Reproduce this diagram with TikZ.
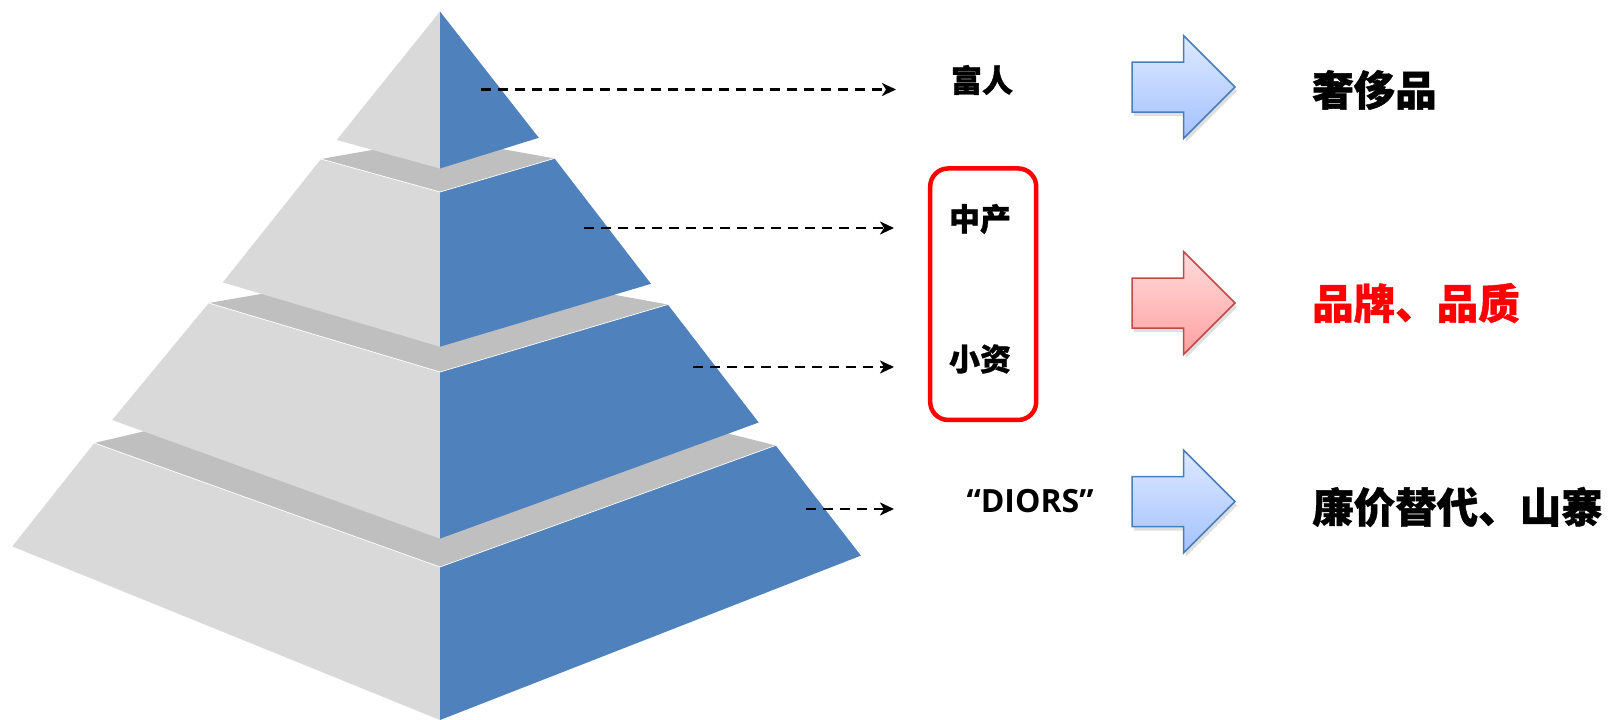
\documentclass[tikz,border=0pt]{standalone}
\usepackage{fontspec}
\newfontfamily\cjk{Noto Sans CJK SC}[BoldFeatures={FakeBold=1.0}]
\newfontfamily\latn{Open Sans}
\usetikzlibrary{arrows.meta,shadows}
\definecolor{lface}{HTML}{D9D9D9}
\definecolor{rface}{HTML}{4F81BD}
\definecolor{tface}{HTML}{BFBFBF}
\definecolor{bline}{HTML}{4A7EBB}
\definecolor{rline}{HTML}{BE4B48}
\definecolor{btop}{RGB}{222,233,255}
\definecolor{bbot}{RGB}{163,194,255}
\definecolor{rtop}{RGB}{255,220,220}
\definecolor{rbot}{RGB}{255,160,160}
\tikzset{
  leftface/.style={fill=lface},
  rightface/.style={fill=rface},
  topface/.style={fill=tface},
  edgeline/.style={draw=white, line width=0.7pt},
  dasharrow/.style={draw=black, line width=2.6pt, dash pattern=on 10pt off 7pt, -{Stealth[length=14pt,width=13pt,inset=4pt]}},
  grouplabel/.style={font=\cjk\bfseries\fontsize{31}{36}\selectfont, inner sep=0pt},
  resultlabel/.style={font=\cjk\bfseries\fontsize{41.5}{48}\selectfont, inner sep=0pt, anchor=west},
  bluearrow/.style={draw=bline, line width=1.5pt, top color=btop, bottom color=bbot, line join=miter,
     drop shadow={opacity=0.25, shadow xshift=2pt, shadow yshift=-4pt}},
  redarrow/.style={draw=rline, line width=1.5pt, top color=rtop, bottom color=rbot, line join=miter,
     drop shadow={opacity=0.25, shadow xshift=2pt, shadow yshift=-4pt}},
  redbox/.style={draw=red, line width=4.5pt, rounded corners=18pt}
}
\begin{document}
\begin{tikzpicture}[x=1pt,y=-1pt]
\useasboundingbox (0,0) rectangle (1612,720);
% ---------- tier 4 (bottom) ----------
\coordinate (d-tl) at (94.3,443);   \coordinate (d-tr) at (775.6,445.4);
\coordinate (d-tf) at (440,567);    \coordinate (d-bk) at (440,362);
\coordinate (d-bl) at (12.3,546.4); \coordinate (d-br) at (860.9,555.6);
\coordinate (d-bc) at (440,720);
\fill[topface] (d-tl) -- (d-bk) -- (d-tr) -- (d-tf) -- cycle;
\fill[leftface] (d-tl) -- (d-tf) -- (d-bc) -- (d-bl) -- cycle;
\fill[rightface] (d-tf) -- (d-tr) -- (d-br) -- (d-bc) -- cycle;
\draw[edgeline] (d-tl) -- (d-tf) -- (d-tr);
% ---------- tier 3 ----------
\coordinate (c-tl) at (208.8,303);  \coordinate (c-tr) at (667.8,304.5);
\coordinate (c-tf) at (440,372);    \coordinate (c-bk) at (440,263);
\coordinate (c-bl) at (112.2,420);  \coordinate (c-br) at (758.7,422.5);
\coordinate (c-bc) at (440,538.6);
\fill[topface] (c-tl) -- (c-bk) -- (c-tr) -- (c-tf) -- cycle;
\fill[leftface] (c-tl) -- (c-tf) -- (c-bc) -- (c-bl) -- cycle;
\fill[rightface] (c-tf) -- (c-tr) -- (c-br) -- (c-bc) -- cycle;
\draw[edgeline] (c-tl) -- (c-tf) -- (c-tr);
% ---------- tier 2 ----------
\coordinate (b-tl) at (321,159);    \coordinate (b-tr) at (554.5,158.4);
\coordinate (b-tf) at (440,192);    \coordinate (b-bk) at (440,138);
\coordinate (b-bl) at (222.8,282.4);\coordinate (b-br) at (651,283.8);
\coordinate (b-bc) at (440,346.7);
\fill[topface] (b-tl) -- (b-bk) -- (b-tr) -- (b-tf) -- cycle;
\fill[leftface] (b-tl) -- (b-tf) -- (b-bc) -- (b-bl) -- cycle;
\fill[rightface] (b-tf) -- (b-tr) -- (b-br) -- (b-bc) -- cycle;
\draw[edgeline] (b-tl) -- (b-tf) -- (b-tr);
% ---------- tier 1 (top) ----------
\coordinate (a-ap) at (440,11.5);
\coordinate (a-bl) at (336.7,140);  \coordinate (a-br) at (538.8,137.8);
\coordinate (a-bc) at (440,168.5);
\fill[leftface] (a-ap) -- (a-bc) -- (a-bl) -- cycle;
\fill[rightface] (a-ap) -- (a-br) -- (a-bc) -- cycle;
% ---------- dashed arrows ----------
\coordinate (s1) at (481,89.5);  \coordinate (e1) at (896,89.5);
\coordinate (s2) at (584,228);   \coordinate (e2) at (894,228);
\coordinate (s3) at (693,367);   \coordinate (e3) at (894,367);
\coordinate (s4) at (806,509);   \coordinate (e4) at (894,509);
\draw[dasharrow] (s1) -- (e1);
\draw[dasharrow] (s2) -- (e2);
\draw[dasharrow] (s3) -- (e3);
\draw[dasharrow] (s4) -- (e4);
% ---------- group labels ----------
\node[grouplabel] (fu) at (982,80) {富人};
\node[grouplabel] (zhong) at (980,219) {中产};
\node[grouplabel] (xiao) at (980,359) {小资};
\node[inner sep=0pt, font=\latn\bfseries\fontsize{32}{38}\selectfont] (dior) at (1030,501) {“DIORS”};
\node[redbox, minimum width=106pt, minimum height=251.5pt] (box) at (983.2,294.2) {};
% ---------- block arrows ----------
\path[bluearrow] (1132,62) -- (1183.5,62) -- (1183.5,35.5) -- (1235,87) -- (1183.5,138.5) -- (1183.5,112) -- (1132,112) -- cycle;
\path[redarrow] (1132,278) -- (1183.5,278) -- (1183.5,251.5) -- (1235,303) -- (1183.5,354.5) -- (1183.5,328) -- (1132,328) -- cycle;
\path[bluearrow] (1132,476.5) -- (1183.5,476.5) -- (1183.5,450) -- (1235,501.5) -- (1183.5,553) -- (1183.5,526.5) -- (1132,526.5) -- cycle;
% ---------- result labels ----------
\node[resultlabel] (lux) at (1312,90) {奢侈品};
\node[resultlabel, text=red] (brand) at (1312,303) {品牌、品质};
\node[resultlabel] (cheap) at (1312,507) {廉价替代、山寨};
\end{tikzpicture}
\end{document}
